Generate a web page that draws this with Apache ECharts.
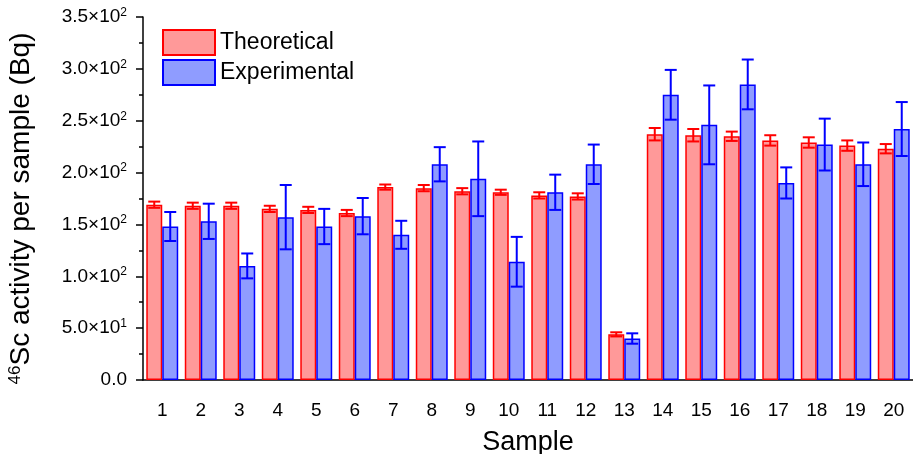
<!DOCTYPE html>
<html>
<head>
<meta charset="utf-8">
<script src="https://cdn.jsdelivr.net/npm/echarts@6/dist/echarts.min.js"></script>
<style>
  html, body { margin: 0; padding: 0; background: #fff; }
  #chart { width: 913px; height: 454px; }
</style>
</head>
<body>
<div id="chart"></div>
<script>
var samples = ['1','2','3','4','5','6','7','8','9','10','11','12','13','14','15','16','17','18','19','20'];
var theoretical = [169, 168, 168, 165, 164, 161, 186, 185, 182, 181, 178, 177, 44, 237, 236, 235, 231, 229, 226, 223];
var theoreticalErr = [3, 3, 3, 3, 3, 3, 2.5, 3, 3, 2.5, 3, 3, 2, 6, 6, 4.5, 5, 5, 5, 4.5];
var experimental = [148, 153, 110, 157, 148, 158, 140, 208, 194, 114, 181, 208, 40, 275, 246, 285, 190, 227, 208, 242];
var experimentalErr = [14, 17, 12, 31, 17, 17.5, 13.5, 16.5, 36, 24, 17, 19, 5, 24, 38, 24, 15, 25, 21, 26];
// y tick labels: [mantissa, exponent]
var yTickLabels = [['0.0', ''], ['5.0', '1'], ['1.0', '2'], ['1.5', '2'], ['2.0', '2'], ['2.5', '2'], ['3.0', '2'], ['3.5', '2']];

var font = '"Liberation Sans", Arial, sans-serif';
var groupRatio = 0.83;

function errData(vals, errs) {
  return vals.map(function (v, i) { return [i, v - errs[i], v + errs[i]]; });
}

function errRender(sign, color) {
  return function (params, api) {
    var i = api.value(0);
    var lo = api.coord([i, api.value(1)]);
    var hi = api.coord([i, api.value(2)]);
    var band = api.size([1, 0])[0];
    var x = lo[0] + sign * band * groupRatio / 4;
    var cap = 6;
    var style = { stroke: color, lineWidth: 2 };
    return {
      type: 'group',
      children: [
        { type: 'line', shape: { x1: x, y1: lo[1], x2: x, y2: hi[1] }, style: style },
        { type: 'line', shape: { x1: x - cap, y1: lo[1], x2: x + cap, y2: lo[1] }, style: style },
        { type: 'line', shape: { x1: x - cap, y1: hi[1], x2: x + cap, y2: hi[1] }, style: style }
      ]
    };
  };
}

var chart = echarts.init(document.getElementById('chart'));
chart.setOption({
  animation: false,
  textStyle: { fontFamily: font, color: '#000' },
  grid: { left: 143, right: 0, top: 17, bottom: 74, containLabel: false, outerBoundsMode: 'none' },
  legend: {
    orient: 'vertical',
    left: 162,
    top: 29,
    padding: 0,
    icon: 'rect',
    itemWidth: 52,
    itemHeight: 25,
    itemGap: 3,
    textStyle: { fontFamily: font, fontSize: 23, color: '#000' },
    data: ['Theoretical', 'Experimental']
  },
  xAxis: [{
    type: 'category',
    data: samples,
    name: 'Sample',
    nameLocation: 'middle',
    nameGap: 49,
    nameTextStyle: { fontFamily: font, fontSize: 27, color: '#000' },
    axisLine: { lineStyle: { color: '#000', width: 1.5 } },
    axisTick: { alignWithLabel: true, length: 8, lineStyle: { color: '#000', width: 1.5 } },
    axisLabel: { margin: 21, fontSize: 19, color: '#000', fontFamily: font }
  }, {
    type: 'category',
    data: samples,
    position: 'bottom',
    axisLine: { show: false },
    axisTick: { length: 4, lineStyle: { color: '#000', width: 1.5 } },
    axisLabel: { show: false }
  }],
  yAxis: {
    type: 'value',
    min: 0,
    max: 350,
    interval: 50,
    name: '{sup|46}{n|Sc activity per sample (Bq)}',
    nameLocation: 'middle',
    nameGap: 107,
    nameTextStyle: {
      padding: [0, 20, 0, 0],
      rich: {
        n: { fontFamily: font, fontSize: 28, color: '#000' },
        sup: { fontFamily: font, fontSize: 17, color: '#000', verticalAlign: 'top', padding: [0, 0, 12, 0] }
      }
    },
    splitLine: { show: false },
    axisLine: { show: true, lineStyle: { color: '#000', width: 1.5 } },
    axisTick: { show: true, length: 7, lineStyle: { color: '#000', width: 1.5 } },
    minorTick: { show: true, splitNumber: 2, length: 4, lineStyle: { color: '#000', width: 1.5 } },
    axisLabel: {
      margin: 16,
      formatter: function (v) {
        var t = yTickLabels[Math.round(v / 50)];
        if (!t[1]) return '{b|' + t[0] + '}';
        return '{b|' + t[0] + '×10}{s|' + t[1] + '}';
      },
      rich: {
        b: { fontFamily: font, fontSize: 19, color: '#000' },
        s: { fontFamily: font, fontSize: 12, color: '#000', verticalAlign: 'top', padding: [0, 0, 9, 0] }
      }
    }
  },
  series: [{
    name: 'Theoretical',
    type: 'bar',
    data: theoretical,
    barGap: '0%',
    barCategoryGap: '17%',
    itemStyle: { color: '#FF9999', borderColor: '#FF0000', borderWidth: 1.5 }
  }, {
    name: 'Experimental',
    type: 'bar',
    data: experimental,
    barGap: '0%',
    barCategoryGap: '17%',
    itemStyle: { color: '#8F9CFF', borderColor: '#0000FF', borderWidth: 1.5 }
  }, {
    type: 'custom',
    z: 5,
    renderItem: errRender(-1, '#FF0000'),
    encode: { x: 0, y: [1, 2] },
    data: errData(theoretical, theoreticalErr)
  }, {
    type: 'custom',
    z: 5,
    renderItem: errRender(1, '#0000FF'),
    encode: { x: 0, y: [1, 2] },
    data: errData(experimental, experimentalErr)
  }]
});
</script>
</body>
</html>
